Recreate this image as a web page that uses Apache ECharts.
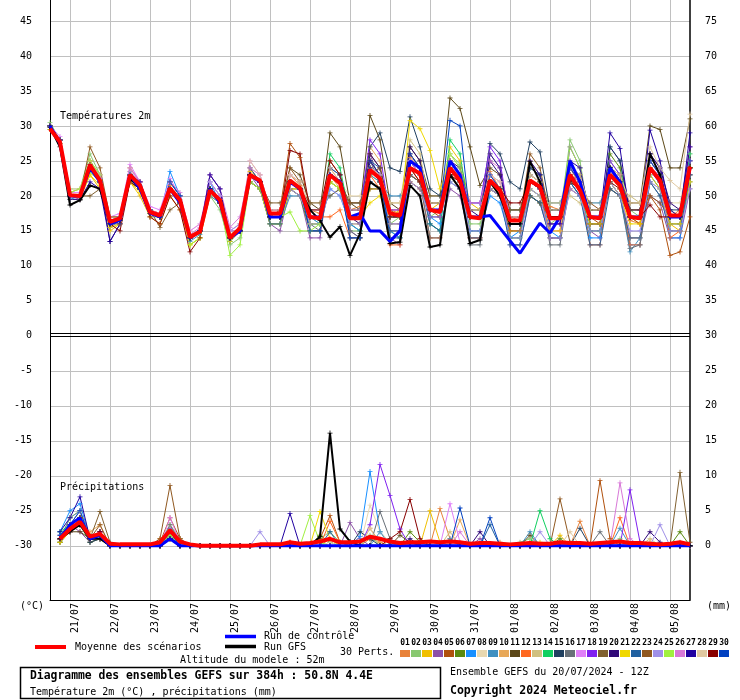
<!DOCTYPE html>
<html><head><meta charset="utf-8">
<script src="https://cdn.jsdelivr.net/npm/echarts@6/dist/echarts.min.js"></script>
<style>html,body{margin:0;padding:0;background:#fff}#c{width:740px;height:700px}</style>
</head><body><div id="c"></div>
<script>
// ---- axis labels ----
const dayLabels = ['21/07','22/07','23/07','24/07','25/07','26/07','27/07','28/07','29/07','30/07','31/07','01/08','02/08','03/08','04/08','05/08'];
const xTicks = [2,6,10,14,18,22,26,30,34,38,42,46,50,54,58,62];
const yTicks = [-30,-25,-20,-15,-10,-5,0,5,10,15,20,25,30,35,40,45];
const memberColors = ['#E8823A','#88C870','#F0C000','#8C50A8','#B0500C','#5A8A10','#1890FF','#E8D8B0','#4090C0','#E8A858','#5C4818','#FF6820','#D0C080','#10D060','#204060','#687078','#E080F8','#8020F0','#806030','#300878','#F0D800','#2060A0','#905820','#A090E8','#A0F040','#D878D8','#2000A0','#E0C8A0','#880000','#0040C0'];
const memberNames = ['01','02','03','04','05','06','07','08','09','10','11','12','13','14','15','16','17','18','19','20','21','22','23','24','25','26','27','28','29','30'];

// ---- temperature 2m (°C), every 6h from 20/07 12Z ----
const meanT = [29.6,27.7, 20.1,20.0,24.4,22.2, 16.3,16.8,23.0,21.5, 17.7,17.2,21.1,19.4, 14.1,14.9,20.8,19.4, 14.0,15.4,23.0,22.2, 17.5,17.5,22.2,21.1, 17.0,16.8,23.0,21.8, 16.8,16.8,23.7,22.5, 17.5,17.2,24.0,23.2, 18.0,17.7,24.0,22.2, 17.0,16.8,22.2,20.8, 16.5,16.5,22.2,21.3, 16.8,16.8,23.0,20.8, 17.0,16.8,23.0,21.5, 17.0,16.8,24.0,22.2, 17.2,17.2,24.2];
const ctrlT = [30,27.5, 20,20,24,22, 16,16.5,23,21, 17.5,17,21,19, 14,15,21,19, 14,15,23,22, 17,17,22,21, 17,17,23,22, 17,17.5,15,15, 13.5,15,25,24, 18,18,25,23, 17,17,17.2,15.4, 13.6,11.8,14,16.1, 14.7,17,25,22, 17,17,24,22, 17,17,24,22, 17,17,24];
const gfsT = [29.8,27, 18.7,19.4,21.5,21, 16,16.5,22.5,21, 17.5,17,21,19, 14,15,21,19, 14,15,23,22, 17,17,22,21, 18,16.5,14.1,15.6, 11.5,14.6,22,21, 13.2,13.4,21.5,20, 12.7,13,23,21, 13.2,13.7,22,20, 16,16,24.9,22, 17,17,22.5,21, 17,17,24.1,22, 17,17,26,23, 17,17,24];
const t01 = [30,28, 20.5,21,25,22.5, 16,17,23.5,21, 18,17.5,21.5,19, 14.5,15,21,19.5, 14,15.5,23,22, 18,18,23,21.5, 18,17.5,24,22, 18,18.5,25,23, 18,17.5,25.5,24, 19,19,25,23, 18,18,23.5,21, 17,16.5,23,22, 18.5,18,24,21.5, 17,17,23.5,21, 16.5,16,24,22.5, 17,18,25];
const t02 = [30.5,28, 21,21,26,23, 16,16,22,21, 17,17,21,19.5, 14,15,20,18, 13,14,22,21, 17,17,23,22, 16,16,22,21, 15,15,23,22, 16,17,24,23, 17,18,26,24.5, 16,16,21,20, 15,15,21,20, 16,17,28,25, 16,16,25,23, 18,17,26,24, 18,17,23];
const t03 = [29.5,27.5, 20,20,23,21, 15,16,22,20, 17,16,20,18, 13,14,20,19, 14,15,23.5,22, 18,18,21,20, 17,16,22,21, 16,16,21,21, 17,18,26,24, 18,19,27,25, 19,18,22,21, 16,16,20,19, 15,15,21,20, 17,17,22,20, 17,16,24,22, 16,15,22];
const t04 = [30,28, 20,19.5,24,22, 16,16,23,22, 18,17,22,20, 14,15,22,20, 15,15,23,21, 16,15,21,20, 14,14,24,23, 15,14,26,22, 14,13,23,22, 16,15,21,20, 14,14,23,21, 13,13,20,19, 14,14,21,20, 15,14,24,21, 14,14,20,19, 14,14,21];
const t05 = [30,28, 20,20,25,23, 17,17,24,22, 18,17,22,20, 14,15,21,19, 14,15,24,22, 18,18,27.5,25.5, 17,17,25,23, 18,18,26,24, 18,17,22,21, 18,17,23,22, 17,17,21,20, 16,16,22,21, 17,17,23,22, 17,16,21,20, 17,16,20,18, 11.5,12,17];
const t06 = [30,28, 20,20,24,22, 16,17,23,21, 18,17,21,19, 14,15,21,19, 13.5,15,22,21, 16,16,21,20, 15,15,23,22, 16,15,24,22, 15,14,25,23, 18,18,24,22, 15,15,22,21, 15,15,20,19, 17,17,24,22, 16,16,26,24, 17,17,24,22, 17,17,24];
const t07 = [30,27.5, 19.5,20,24,22.5, 16.5,17,23,21.5, 18,17,23.5,20, 14,15,22,19, 14,15,22,21, 17,17,22,21, 17,16,21,20, 16,15,22,21, 15,14,23,22, 17,16,24,22, 15,15,20,19, 14,15,22,21, 15,14,22,20, 14,14,22,20, 13,13,23,21, 14,14,23];
const t08 = [30,28, 21,21,25,23, 17,17,24,22, 18,17,22,20, 15,16,22,20, 15,16,24,23, 18,18,23,22, 19,19,23,22, 20,20,24,23, 19,19,25,24, 20,20,26,24, 19,19,23,22, 18,18,23,22, 19,19,24,22, 19,19,24,22, 19,19,25,23, 19,19,26];
const t09 = [29.5,27.5, 20,20,24,22, 16,17,23,21, 18,17,21,19, 13.5,14.5,20,19, 13.5,15,22,21, 16,16,20,20, 18,18,20,21, 19,19,23,22, 20,20,23,22, 19,19,23,21, 19,19,21,20, 18,18,21,20, 19,19,22,20, 19,19,22,20, 12,14,23,21, 16,16,22];
const t10 = [30,28, 20,20,24.5,22, 16,17,23,21, 18,17.5,21,19, 14,15,21,19.5, 14.5,15.5,23,22, 17,17,22,21, 15,15,23,21, 18,18,27,25, 15,15,24,22, 18,18,24,22, 14,14,22,21, 17,17,25,23, 15,15,23,21, 16,16,23,21, 14,14,24,22, 15,15,24];
const t11 = [30,28, 20,20,24,22, 16,17,23,21, 18,17,21,19, 14,15,21,19, 14,15,23,22, 18,18,24,23, 19,18,29,27, 19,18,31.5,28, 19,18,27,25, 20,20,34,32.5, 27,21.5,24,23, 18,18,23,22, 18,18,24,23, 18,18,24,22, 19,19,30,29.5, 24,24,31];
const t12 = [30,28, 20,20,24,22, 16,17,23,21, 18,17,21,19, 14,15,21,19, 14,15,23,22, 17,17,22,21, 17,17,17,18, 14,14,23,21, 13,13,24,22, 14,14,23,21, 14,14,21,20, 15,15,22,21, 14,14,23,21, 13,13,23,21, 13,13,24,22, 14,15,23];
const t13 = [30,28, 20,20,24,22, 16,16.5,22.5,21, 17.5,17,21,19, 14,15,21,19, 14,15,23,22, 17,17,22,21, 17,17,23,22, 17,17,24,22, 19,19,28,26, 18,18,23,22, 18,18,26,24, 16,16,23,22, 19,19,20,19, 17,17,23,21, 20,19,22,21, 17,17,24];
const t14 = [30,28, 20,20,23.5,22, 16,17,23,21, 18,17,21,19, 14,15,21,19, 14,15,23,22, 17,17,22,21, 16,16,26,24, 17,17,25,23, 17,17,25,23, 16,15,28,26, 17,17,22,21, 14,14,24,23, 17,17,23,21, 15,15,27,25, 17,17,25,23, 17,17,26];
const t15 = [30,28, 20,20,24,22, 16,17,23,21, 18,17,21,19, 14,15,21,19, 14,15,23,22, 17,17,22,21, 17,17,23,22, 18,18,27,29, 24,23.5,31.3,27, 21,20,24,22, 18,18,27.5,26, 22,21,27.7,26.3, 18,18,24,22, 18,18,24,22, 18,18,25,23, 18,18,25];
const t16 = [30,28, 20,20,24,22, 15.5,16.5,22,21, 18,17,21,19, 14,15,21,19, 14,15,23,22, 17,17,22,21, 16,15,22,21, 15,14,25,22, 17,17,23,22, 14,14,23,21, 13,13,22,21, 14,14,22,21, 13,13,22,20, 15,15,22,20, 12.5,13,22,20, 16,16,23];
const t17 = [30,28.5, 20.5,20.5,24.5,23, 17,17.5,24.5,22, 18.5,18,22.5,20, 15,16,22,20, 15,16,25,23, 18,18,23,22, 18,18,23,22, 17,17,24,23, 18,18,25,23, 18,18,25,23, 17,17,23,22, 16,16,23,22, 17,17,24,22, 17,17,24,22, 17,17,25,23, 17,17,25];
const t18 = [30,28, 20,20,24,22, 16,17,23,21, 18,17,21,19, 14,15,21,19, 14,15,23,22, 17,17,22,21, 17,17,23,22, 18,18,28,26, 17,17,25,23, 18,18,25,23, 19,19,27,25, 16,16,23,22, 16,16,27,24, 17,17,25,23, 17,17,26,24, 17,17,27];
const t19 = [30,28, 20,20,20,21, 16,17,23,21, 18,15.5,18,19, 14,15,21,19, 14,15,23,22, 19,19,21,21, 19,19,20,21, 19,19,21,21, 16,16,22,21, 18,18,24,22, 17,17,22,21, 18,18,20,19, 17,17,23,21, 18,18,21,20, 17,17,24,22, 17,17,24];
const t20 = [30,28, 20,20,24,22, 13.5,16,23,21, 18,17,21,19, 14,15,23,21, 14,15,23,22, 17,17,22,21, 17,17,23,22, 17,16,26,24, 18,18,27,25, 17,17,25,24, 18,17,25,23, 17,17,24,23, 16,16,23,22, 16,16,27,25, 18,18,26,24, 19,18,27];
const t21 = [29.5,27.5, 19.5,19.5,23,21.5, 15.5,16,22,20.5, 17.5,17,21,19, 13,14,20.5,19, 13.5,15,22,21, 16,16,21,21, 16,16,22,21, 17,17,19,20, 17,17,30.8,29.6, 26.5,21,25,23, 17,17,21,20, 16,16,21,20, 17,17,22,21, 16,16,22,20, 16,16,23,21, 16,16,22];
const t22 = [30,28, 20,20,24,22, 16,17,23,21, 18,17,22,20, 14,15,21,19, 14,15,24,22, 16,16,22,21, 15,15,24,23, 14,14,25,24, 14,14,24,23, 16,15,22,21, 14,14,21,20, 13,13,20,19, 14,14,22,20, 13,13,21,20, 14,14,22,20, 15,15,23];
const t23 = [30,28, 20,20,27,24, 17,17,23,22, 18,17,21,19, 14,15,21,19, 14,15,22,21, 17,18,24,22, 17,17,23,22, 19,19,23,24, 17,17,23,22, 19,19,23,23, 17,17,22,21, 17,17,26,24, 17,17,23,21, 19,18,24,23, 18,18,20,19, 17,17,24];
const t24 = [30,28, 20,20,24,22, 16,17,23.5,22, 18,17,21,19, 14,15,22,20, 15,16,23,22, 17,17,21,20, 16,16,21,20, 16,16,22,21, 16,16,22,21, 17,17,22,21, 15,15,21,20, 14,14,21,20, 14,14,21,20, 15,15,22,20, 15,15,22,21, 15,15,21];
const t25 = [30,28, 20.5,21,25,23, 16,17,23,21, 18,17,21,19, 13,14,21,19, 11.5,13,22,21, 17,17,17.7,15, 15,16,22,21, 17,17,24,22, 17,17,24,23, 18,18,26,24, 17,17,22,21, 16,16,23,22, 17,17,27,24, 17,17,24,22, 17,17,24,22, 17,17,24];
const t26 = [30,28, 20,20,24,22.5, 16.5,17,24,22, 18,17.5,22,20.5, 14.5,15.5,23,21, 15.5,17,24,23, 18,18,22,21, 17,17,23,22, 17,17,24,23, 18,18,25,23, 18,18,24,23, 19,19,25,24, 17,17,22,21, 17,17,23,22, 17,17,24,22, 17,17,24,23, 17,17,25];
const t27 = [30,28, 19.5,19.5,22,21, 13.5,16,23,22, 18,17,21,19, 14,15,23,21, 14,15,23,22, 17,17,22,21, 17,17,23,22, 17,17,25,23, 17,17,26,24, 18,18,25,23, 17,17,26,24, 16,16,25,23, 17,17,25,24, 17,17,29,26.8, 17,17,29.4,25, 18,17,29];
const t28 = [30,28, 20,20,24,22, 16,17,23,21, 18,17,21,19, 14,15,21,19, 14,15,25,23, 18,18,23,22, 18,18,24,22, 18,18,24,23, 19,19,25,24, 19,19,25,23, 18,18,23,22, 17,17,23,22, 18,18,24,23, 18,18,24,23, 19,19,27,24, 22.2,21,31.7];
const t29 = [30,28, 20,20,24.5,22, 16,15,22,21, 17,16,20,18, 12,14,21,19, 14,15,23,22, 17,17,26.5,26, 18,18,25,23, 17,17,24,22, 17,17,24,22, 18,18,23,22, 17,17,22,21, 19,19,22,21, 17,17,22,21, 17,17,22,21, 17,17,18.7,17, 17,17,24];
const t30 = [30,28, 20,20,24,22, 16,17,23,21, 18,17,22,20, 14,15,21,19, 14,15,23,22, 17,17,22,21, 15,15,23,22, 14,14,24,22, 15,15,26,24, 18,18,30.8,30, 17,17,23,21, 16,16,22,21, 17,17,24,22, 17,17,24,22, 17,17,25,23, 17,17,25];

// ---- precipitation (mm per 6h) ----
const meanP = [null,1, 2.4,3.4,1.3,1.7, 0.3,0.2,0.2,0.2, 0.2,0.5,2.2,0.6, 0.2,0,0,0, 0,0,0,0.2, 0.2,0.2,0.5,0.3, 0.4,0.6,1,0.5, 0.5,0.6,1.3,1, 0.6,0.4,0.5,0.5, 0.6,0.5,0.6,0.5, 0.3,0.4,0.4,0.3, 0.2,0.3,0.4,0.3, 0.3,0.5,0.4,0.4, 0.3,0.4,0.5,0.6, 0.4,0.4,0.3,0.2, 0.3,0.5,0.2];
const ctrlP = [null,1, 3,4,1,1.5, 0,0,0,0, 0,0,1,0, 0,0,0,0, 0,0,0,0, 0,0,0,0, 0,0,0,0, 0,0,0,0, 0,0,0,0, 0,0,0,0, 0,0,0,0, 0,0,0,0, 0,0,0,0, 0,0,0,0, 0,0,0,0, 0,0,0];
const gfsP = [null,1, 2,3,1,1, 0,0,0,0, 0,0,1,0, 0,0,0,0, 0,0,0,0, 0,0,0,0, 0,1.3,16.1,2.4, 0.6,0,0,0, 0,0,0,0, 0,0,0,0, 0,0,0,0, 0,0,0,0, 0,0,0,0, 0,0,0,0, 0,0,0,0, 0,0,0];
const p01 = [null,1, 3,4,1,2, 0.3,0,0,0, 0,1,2,0.5, 0,0,0,0, 0,0,0,0, 0,0,0.5,0, 0,0,1,0, 0,0,1,0.5, 0,0,0,0, 0,5.3,1,0, 0,0,0,0.5, 0,0,0.5,0, 0,0,0,3.5, 0,0,0,0, 0,0,0.5,0, 0,0,0];
const p02 = [null,0.5, 2,3,1,1.5, 0,0,0,0, 0,0.5,3,1, 0,0,0,0, 0,0,0,0, 0,0,0,0, 0,1,2,0.5, 0,0,1.5,0, 0,0,0.5,0, 0,0,0,0, 0,0,0,0, 0,0.5,1,0, 0,0,0,0, 0,0,0,1, 0,0,0,0, 0,0.5,0];
const p03 = [null,1, 4,5,1.5,1, 0,0,0,0, 0,0,1.5,0, 0,0,0,0, 0,0,0,0, 0,0,0,0, 0,0,0,0, 0,0,0,0, 0,0,0,0, 5,0.5,0,0, 0,0,0,0, 0,0,0,0.5, 0,1.5,0,0, 0,0,0,0, 0,0,0,0, 0,0,0];
const p04 = [null,1.5, 3,2,0.5,1, 0,0,0,0, 0,0,2.5,1, 0,0,0,0, 0,0,0,0, 0,0,0,0, 0,0,0,0, 3.3,1,0,0, 0,0,0,0, 0,0,0,0, 0,1,0,0, 0,0,0,0, 0,0,0,0, 0,0,0,0, 0,0,0,0, 0,0,0];
const p05 = [null,1, 2,4,1,2, 0,0,0,0, 0,0.5,4,1, 0,0,0,0, 0,0,0,0, 0,0,0.5,0, 0,1,4.3,0.5, 0,0,0,0, 0,0,0,0, 0,0,0,0, 0,0,0,0, 0,0,0,0, 0,0,0,0, 0,9.3,1,0, 0,0,0,0, 0,0,0];
const p06 = [null,0.5, 2,3,0.5,1, 0,0,0,0, 0,0,1,0.5, 0,0,0,0, 0,0,0,0, 0,0,0,0, 0,1.5,0.5,0, 0,0,0,0, 0,0,2,0.5, 0,0,0,0, 0,0,0,0, 0,0,0,0, 0,1,0,0, 0,0,0,0, 0,0,0,0, 0,2,0];
const p07 = [null,2, 5,6,1,1, 0,0,0,0, 0,0,2,0.5, 0,0,0,0, 0,0,0,0, 0,0,0,0, 0,0,0,0, 0,1.3,10.6,2, 0.5,0,0,0, 0,0,0,0, 0,0,0,0, 0,0,0,0, 0,0,0,0, 0,0,0,0, 0,0,0,0, 0,0,0];
const p08 = [null,1, 3,4,1,1.5, 0,0,0,0, 0,0,3,0.5, 0,0,0,0, 0,0,0,0, 0,0,0,0, 0,0,0.5,0, 0,0,5.8,2, 0.5,0,0,0, 0,0,0,0, 0,0,0,0, 0,0,0,0, 0,0,0,0, 0,0,0,0, 0,0,0,0, 0,0,0];
const p09 = [null,1, 4,5,1,2, 0,0,0,0, 0,0,1,0, 0,0,0,0, 0,0,0,0, 0,0,0,0, 0,0,0,0, 0,0,0,2, 0,0,0,0, 0,0,1,0, 0,0,0,0, 0,0,2,0, 0,0,0,0, 0,0,0,2.5, 0,0,0,0, 0,0,0];
const p10 = [null,1, 2,3,2,3, 0,0,0,0, 0,0.5,2,1, 0,0,0,0, 0,0,0,0, 0,0,0,0, 0,0,0,0, 0,0,2.5,0.5, 0,0,0,0, 0,0,0,3.7, 0,0,0,0, 0,0,0,0, 0,0,0,0, 0,0,0,0, 0,0,0,0, 0,0,0];
const p11 = [null,0.5, 2,2,1,1, 0,0,0,0, 0,0,1,0, 0,0,0,0, 0,0,0,0, 0,0,0,0, 0,0,0,0, 0,0,0,0, 0,1.5,0.5,0, 0,0,0,0, 0,0,0,0, 0,0,1.5,0, 0,0,0,0, 0,0,0,0, 0,0,0,0, 0,0,0];
const p12 = [null,1, 3,4,1,2, 0,0,0,0, 0,0,2,0, 0,0,0,0, 0,0,0,0, 0,0,0,0, 0,0,3.5,0.5, 0,0,0,0, 0,0,0,0, 0,0,0,0, 0,0,0,0, 0,0,0,0, 0,0,0,0, 0,0,0,4, 0,0,0,0, 0,0,0];
const p13 = [null,1, 2,3,1,1, 0,0,0,0, 0,0,1,0.5, 0,0,0,0, 0,0,0,0, 0,0,0,0, 0,0,0,0, 0,0,0,0, 0,0,0,0, 0,0,2,0, 0,0,0,0, 0,0,0,0, 0,0,0,0, 0,0,0,0, 0,0,1,0, 0,0,0];
const p14 = [null,2, 3,5,1,1, 0,0,0,0, 0,0,1.5,0, 0,0,0,0, 0,0,0,0, 0,0,0,0, 0,0,0,0, 0,0,0,0, 0,0,0,0, 0,0,0,0, 0,0,0,0, 0,0,0,5, 1,0,0,0, 0,0,0,0, 0,0,0,0, 0,0,0];
const p15 = [null,1, 3,4,0.5,1, 0,0,0,0, 0,0,2,0, 0,0,0,0, 0,0,0,0, 0,0,0,0, 0,0,0,0, 0,2,1,0, 0,0,0,0, 0,0,0,0, 0,0,0,0, 0,0,0,0, 0,0,0,2.5, 0,0,0,0, 0,0,0,0, 0,0,0];
const p16 = [null,1, 3,4,1,1, 0,0,0,0, 0,0,3,0.5, 0,0,0,0, 0,0,0,0, 0,0,0,0, 0,0,0,0, 0,0,0,4.9, 1,0,0,0, 0,0,0,0, 0,0,0,0, 0,0,0,0, 0,0,0,0, 0,2,0,0, 0,0,0,0, 0,0,0];
const p17 = [null,1, 3,5,1,2, 0,0,0,0, 0,0,4,0.5, 0,0,0,0, 0,0,0,0, 0,0,0,0, 0,0,0,0, 0,0,0,0, 0,0,0,0, 0,0,6,0.5, 0,0,0,0, 0,0,0,0, 0,0,0,0, 0,0,0,0, 0,0,0,0, 0,0,0];
const p18 = [null,1, 2,3,1,1, 0,0,0,0, 0,0,2,0.5, 0,0,0,0, 0,0,0,0, 0,0,0,0, 0,0,0,0, 0,0,3,11.6, 7.2,2.4,0,0, 0,0,0,0, 0,0,0,0, 0,0,0,0, 0,0,0,0, 0,0,0,0, 8,0.5,0,0, 0,0,0];
const p19 = [null,1, 3,4,1,4.9, 0.5,0,0,0, 0,0,1,0, 0,0,0,0, 0,0,0,0, 0,0,0,0, 0,0,0,0, 0,0,0,0, 0,0,0,0, 0,0,0,0, 0,0,0,0, 0,0,0,0, 0,0,0,0, 0,0,0,0, 0,0,0,0, 0,10.5,0.5];
const p20 = [null,1, 3,4,1,1, 0,0,0,0, 0,0,1,0, 0,0,0,0, 0,0,0,0, 0,0,0,0, 0,0,0,0, 0,0,0,0, 0,0,1,0, 0,0,0,0, 0,2,0,0, 0,0,0,0, 0,0,0,0, 0,0,0,0, 0,0,2,0.5, 0,0,0];
const p21 = [null,0.5, 2,3,1,1, 0,0,0,0, 0,0,2,0.5, 0,0,0,0, 0,0,0,0, 0,0,0,0, 0,4.9,1,0, 0,0,0,0, 0,0,0,0, 0,0,0,0, 0,0,0,0, 0,0,0,0, 0,0,0,0, 0,0,0,0, 0,0,0,0, 0,0,0];
const p22 = [null,1, 3,3,1,1, 0,0,0,0, 0,0,2,0, 0,0,0,0, 0,0,0,0, 0,0,0,0, 0,0,2,0, 0,0,0,0, 0,0,0,0, 0,0,0,0, 0,0,3,0, 0,0,0,0, 0,0,0,0, 0,0,0,0, 0,0,0,0, 0,0,0];
const p23 = [null,1, 3,4,1,3, 0,0,0,0, 0,1,8.6,1, 0,0,0,0, 0,0,0,0, 0,0,0,0, 0,0,0,0, 0,0,0,0, 0,0,0,0, 0,0,0,0, 0,0,0,0, 0,0,0,0, 0,6.7,0.5,0, 0,0,0,0, 0,0,0,0, 0,0,0];
const p24 = [null,1, 2,3,1,1, 0,0,0,0, 0,0,2,0.5, 0,0,0,0, 0,0,0,2, 0,0,0,0, 0,0,0,0, 0,0,0,0, 0,0,0,0, 0,0,0,0, 0,0,0,0, 0,0,0,2, 0,0,0,0, 0,0,0,0, 0,0,0,3, 0,0,0];
const p25 = [null,1, 3,4,1,1, 0,0,0,0, 0,0,1.5,0, 0,0,0,0, 0,0,0,0, 0,0,0,0, 4.3,0.5,0,0, 0,0,0,0, 0,0,0,0, 0,0,0,0, 0,0,0,0, 0,0,0,0, 0,0,0,0, 0,0,0,0, 0,0,0,0, 0,0,0];
const p26 = [null,1, 3,3,1,1, 0,0,0,0, 0,0,1,0, 0,0,0,0, 0,0,0,0, 0,0,0,0, 0,0,0,0, 0,0,0,0, 0,0,0,0, 0,0,0,2, 0,0,0,0, 0,0,0,0, 0,0,0,0, 0,0,0,9, 1,0,0,0, 0,0,0];
const p27 = [null,2, 4,7,1,2, 0,0,0,0, 0,0,1,0, 0,0,0,0, 0,0,0,0, 0,0,4.6,0, 0,0,0,0, 0,0,0,0, 0,0,0,0, 0,0,0,0, 0,0,0,0, 0,0,0,0, 0,0,0,0, 0,0,0,0, 0,0,0,0, 0,0,0];
const p28 = [null,1, 3,3,1,1, 0,0,0,0, 0,0,1,0, 0,0,0,0, 0,0,0,0, 0,0,0,0, 0,0,0,0, 0,0,2.5,0, 0,0,0,0, 0,0,0,0, 0,0,0,0, 0,0,0,0, 0,0,2,0, 0,0,0,0, 0,0,0,0, 0,0,0];
const p29 = [null,1, 3,4,1,2, 0,0,0,0, 0,0,1,0, 0,0,0,0, 0,0,0,0, 0,0,0,0, 0,0,0,0, 0,0,0,0, 1,2,6.6,1, 0,0,0,0, 0,0,0,0, 0,0,0,0, 0,0,0,0, 0,0,0,0, 0,0,0,0, 0,0,0];
const p30 = [null,1.5, 3,5,1,1.5, 0,0,0,0, 0,0,2,0, 0,0,0,0, 0,0,0,0, 0,0,0,0, 0,0,0,0, 0,0,0,0, 0,0,0,0, 0,0,0,5.4, 0,0,4,0, 0,0,0,0, 0,0,0,0, 0,0,0,0, 0,0,0,0, 0,0,0];

const tempMembers = [t01,t02,t03,t04,t05,t06,t07,t08,t09,t10,t11,t12,t13,t14,t15,t16,t17,t18,t19,t20,t21,t22,t23,t24,t25,t26,t27,t28,t29,t30];
const precipMembers = [p01,p02,p03,p04,p05,p06,p07,p08,p09,p10,p11,p12,p13,p14,p15,p16,p17,p18,p19,p20,p21,p22,p23,p24,p25,p26,p27,p28,p29,p30];

// precipitation panel: 0 mm sits on the -30 line of the shared axis
const PRECIP_ZERO = -30;
const FONT = '"DejaVu Sans Mono","Liberation Mono",monospace';
const CROSS = 'path://M-0.5,-3H0.5V-0.5H3V0.5H0.5V3H-0.5V0.5H-3V-0.5H-0.5Z';

function toData(arr, shift) {
  return arr.map((v, i) => [i, v == null ? '-' : v + shift]);
}
function lineSeries(arr, shift, color, width, z, withSymbol) {
  return {
    type: 'line', data: toData(arr, shift), z: z, silent: true,
    symbol: withSymbol ? CROSS : 'none', symbolSize: 5, showSymbol: withSymbol,
    itemStyle: { color: color }, lineStyle: { color: color, width: width },
    emphasis: { disabled: true }, animation: false, connectNulls: false
  };
}

const series = [];
tempMembers.forEach((m, k) => series.push(lineSeries(m, 0, memberColors[k], 1, 2, true)));
precipMembers.forEach((m, k) => series.push(lineSeries(m, PRECIP_ZERO, memberColors[k], 1, 2, true)));
series.push(lineSeries(gfsT, 0, '#000000', 2, 3, true));
series.push(lineSeries(gfsP, PRECIP_ZERO, '#000000', 2, 3, true));
series.push(lineSeries(ctrlT, 0, '#0000FF', 3, 4, false));
series.push(lineSeries(ctrlP, PRECIP_ZERO, '#0000FF', 3, 4, false));
const meanTS = lineSeries(meanT, 0, '#FF0000', 4, 5, false);
meanTS.markLine = {
  silent: true, symbol: 'none', animation: false,
  label: { show: false },
  lineStyle: { color: '#000', width: 1, type: 'solid' },
  data: [{ yAxis: 0 }, { yAxis: 0.32 }]
};
series.push(meanTS);
series.push(lineSeries(meanP, PRECIP_ZERO, '#FF0000', 4, 5, false));

const txt = (text, x, y, opt) => Object.assign({
  type: 'text', z: 100, silent: true,
  style: Object.assign({ text: text, x: x, y: y, font: '10px ' + FONT, fill: '#000', verticalAlign: 'middle', align: 'left' }, opt || {})
});
const graphics = [
  txt('Températures 2m', 60, 116),
  txt('Précipitations', 60, 487),
  txt('(°C)', 20, 606),
  txt('(mm)', 707, 606),
  { type: 'line', silent: true, shape: { x1: 35, y1: 647, x2: 66, y2: 647 }, style: { stroke: '#FF0000', lineWidth: 4 } },
  txt('Moyenne des scénarios', 75, 647),
  { type: 'line', silent: true, shape: { x1: 225, y1: 636.5, x2: 256, y2: 636.5 }, style: { stroke: '#0000FF', lineWidth: 3.5 } },
  { type: 'line', silent: true, shape: { x1: 225, y1: 646.5, x2: 256, y2: 646.5 }, style: { stroke: '#000000', lineWidth: 3.5 } },
  txt('Run de contrôle', 264, 636),
  txt('Run GFS', 264, 647),
  txt('Altitude du modele : 52m', 180, 660),
  txt('30 Perts.', 340, 652),
  { type: 'rect', silent: true, shape: { x: 20.5, y: 667.5, width: 420, height: 31 }, style: { fill: 'none', stroke: '#000', lineWidth: 1.5 } },
  txt('Diagramme des ensembles GEFS sur 384h : 50.8N 4.4E', 30, 676, { font: 'bold 11.4px ' + FONT }),
  txt('Température 2m (°C) , précipitations (mm)', 30, 692),
  txt('Ensemble GEFS du 20/07/2024 - 12Z', 450, 672),
  txt('Copyright 2024 Meteociel.fr', 450, 691, { font: 'bold 11.5px ' + FONT })
];
memberColors.forEach((c, k) => {
  const x0 = 400 + 11 * k;
  graphics.push({ type: 'rect', silent: true, shape: { x: x0, y: 650, width: 10, height: 7 }, style: { fill: c } });
  graphics.push(txt(memberNames[k], x0 + 5, 643, { font: 'bold 8px ' + FONT, align: 'center' }));
});

const axisFont = { fontFamily: FONT, fontSize: 10, color: '#000' };
const option = {
  animation: false,
  backgroundColor: '#fff',
  grid: { left: 50, right: 50, top: 0, bottom: 100, containLabel: false },
  xAxis: {
    type: 'value', min: 0, max: 64,
    axisLine: { show: true, onZero: false, lineStyle: { color: '#000', width: 1 } },
    axisTick: { show: false, customValues: xTicks },
    axisLabel: Object.assign({ customValues: xTicks, rotate: 90, verticalAlign: 'top', margin: 3,
      formatter: v => dayLabels[Math.round((v - 2) / 4)] }, axisFont),
    splitLine: { show: true, lineStyle: { color: '#c0c0c0', width: 1 } }
  },
  yAxis: [{
    type: 'value', min: -37.75, max: 48, position: 'left',
    axisLine: { show: true, onZero: false, lineStyle: { color: '#000', width: 1 } },
    axisTick: { show: false, customValues: yTicks },
    axisLabel: Object.assign({ customValues: yTicks, margin: 18 }, axisFont),
    splitLine: { show: true, lineStyle: { color: '#c0c0c0', width: 1 } }
  }, {
    type: 'value', min: -37.75, max: 48, position: 'right',
    axisLine: { show: true, onZero: false, lineStyle: { color: '#000', width: 1.5 } },
    axisTick: { show: false, customValues: yTicks },
    axisLabel: Object.assign({ customValues: yTicks, margin: 15, formatter: v => String(v + 30) }, axisFont),
    splitLine: { show: false }
  }],
  series: series,
  graphic: graphics
};
const chart = echarts.init(document.getElementById('c'));
chart.setOption(option);
</script>
</body></html>
